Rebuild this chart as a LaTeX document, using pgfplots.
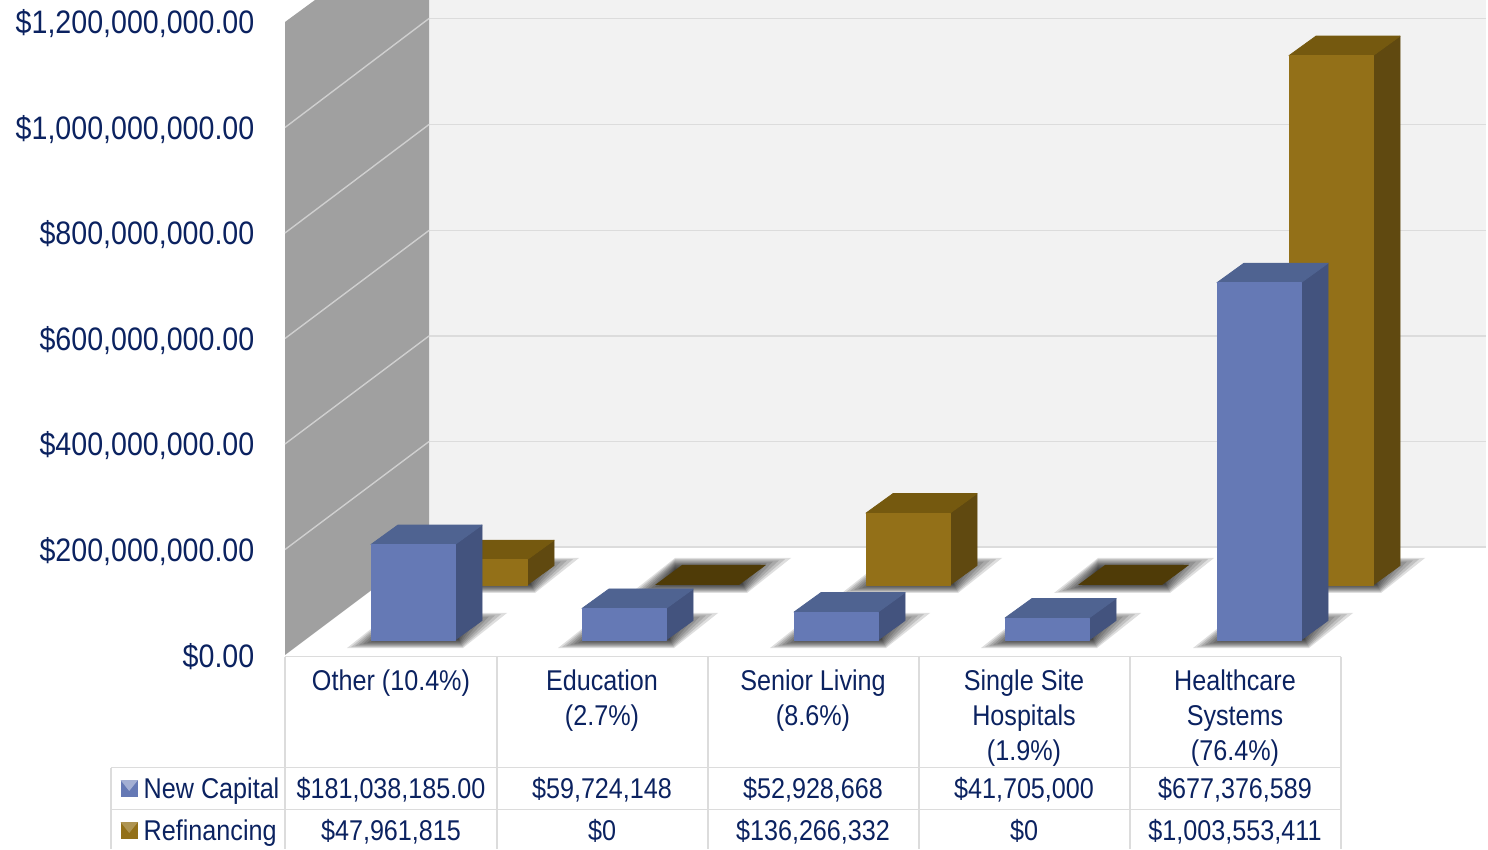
\documentclass[border=0pt]{standalone}
\usepackage{fontspec}
\setmainfont[FakeStretch=0.88]{Liberation Sans}
\usepackage{pgfplots}
\pgfplotsset{compat=1.18}
\definecolor{ink}{HTML}{0B2260}
\definecolor{bf}{HTML}{6579B5}
\definecolor{bt}{HTML}{4F6391}
\definecolor{bs}{HTML}{43537E}
\definecolor{gf}{HTML}{937018}
\definecolor{gt}{HTML}{75590F}
\definecolor{gs}{HTML}{604910}
\definecolor{gz}{HTML}{4F3B07}
\definecolor{wall}{HTML}{A0A0A0}
\definecolor{backc}{HTML}{F2F2F2}
\definecolor{gridc}{HTML}{DCDCDC}
\definecolor{wgrid}{HTML}{CFCFCF}
% pixel row -> value in millions of dollars on the chart's vertical scale
\pgfmathdeclarefunction{pyv}{1}{\pgfmathparse{(655-#1)*1.89573}}
% 3-D bar: left x, base pixel row, value (millions), front, top, side
\newcommand{\barD}[6]{%
 \addplot[fill=#6,draw=#6,line width=0.8pt,line join=round] coordinates {({#1+84},{pyv(#2)}) ({#1+111},{pyv(#2-19.5)}) ({#1+111},{pyv(#2-19.5)+#3}) ({#1+84},{pyv(#2)+#3})} --cycle;
 \addplot[fill=#5,draw=#5,line width=0.8pt,line join=round] coordinates {({#1},{pyv(#2)+#3}) ({#1+84},{pyv(#2)+#3}) ({#1+111},{pyv(#2-19.5)+#3}) ({#1+27},{pyv(#2-19.5)+#3})} --cycle;
 \addplot[fill=#4,draw=#4,line width=0.8pt,line join=round] coordinates {({#1},{pyv(#2)}) ({#1+84},{pyv(#2)}) ({#1+84},{pyv(#2)+#3}) ({#1},{pyv(#2)+#3})} --cycle;
}
\newcommand{\shadowlayer}[3]{%
 \addplot[fill=black,draw=none,fill opacity=0.13] coordinates {({#1-24+4*#3},{pyv(#2+8-#3)}) ({#1+92-0.5*#3},{pyv(#2+8-#3)}) ({#1+136-6*#3},{pyv(#2-27+1.2*#3)}) ({#1+20},{pyv(#2-27+1.2*#3)})} --cycle;
}
\newcommand{\shadowD}[2]{\shadowlayer{#1}{#2}{0}\shadowlayer{#1}{#2}{1}\shadowlayer{#1}{#2}{2}\shadowlayer{#1}{#2}{3}\shadowlayer{#1}{#2}{4}\shadowlayer{#1}{#2}{5}\shadowlayer{#1}{#2}{6}\shadowlayer{#1}{#2}{7}\shadowlayer{#1}{#2}{8}\shadowlayer{#1}{#2}{9}}
\newcommand{\gridH}[1]{\addplot[color=gridc,line width=1.6pt] coordinates {(429,{pyv(#1)}) (1486,{pyv(#1)})};}
\newcommand{\gridW}[2]{\addplot[color=wgrid,line width=1.4pt] coordinates {(285,{pyv(#1)}) (429,{pyv(#2)})};}
\newcommand{\tabline}[4]{\addplot[color=gridc,line width=1.8pt] coordinates {(#1,{pyv(#2)}) (#3,{pyv(#4)})};}
\newcommand{\cell}[3]{\node[anchor=base,inner sep=0pt,text=ink,font=\fontsize{28.6}{35}\selectfont] at (axis cs:#1,{pyv(#2)}) {#3};}
\begin{document}
\begin{tikzpicture}
\begin{axis}[
  scale only axis,width=1488pt,height=849pt,
  xmin=0,xmax=1488,ymin=-367.77,ymax=1241.7,
  axis line style={draw=none},
  major tick length=0pt,tick style={draw=none},
  ytick={0,200,400,600,800,1000,1200},
  yticklabels={{\$0.00},{\$200,000,000.00},{\$400,000,000.00},{\$600,000,000.00},{\$800,000,000.00},{\$1,000,000,000.00},{\$1,200,000,000.00}},
  yticklabel style={anchor=east,inner sep=0pt,xshift=254.5pt,yshift=-2pt,text=ink,font=\fontsize{32.5}{35}\selectfont},
  xtick={391,602,813,1024,1235},
  xticklabels={{Other (10.4\%)},{Education\\(2.7\%)},{Senior Living\\(8.6\%)},{Single Site\\Hospitals\\(1.9\%)},{Healthcare\\Systems\\(76.4\%)}},
  xticklabel style={anchor=north,align=center,inner sep=0pt,yshift=179pt,text=ink,font=\fontsize{28.6}{35}\selectfont},
  clip=true,
]
% walls
\addplot[fill=backc,draw=none] coordinates {(429,{pyv(547)}) (1486,{pyv(547)}) (1486,{pyv(0)}) (429,{pyv(0)})} --cycle;
\addplot[fill=wall,draw=none] coordinates {(285,{pyv(655)}) (429,{pyv(547)}) (429,{pyv(0)}) (315,{pyv(0)}) (285,{pyv(22)})} --cycle;
\gridH{547}\gridH{441.5}\gridH{336}\gridH{230.5}\gridH{124.5}\gridH{18.5}
\gridW{549.5}{441.5}\gridW{444}{336}\gridW{338.5}{230.5}\gridW{233}{124.5}\gridW{127.5}{18.5}
% shadows
\shadowD{443}{585}\shadowD{655}{585}\shadowD{866}{585}\shadowD{1078}{585}\shadowD{1289}{585}
% refinancing
\barD{443}{585}{47.961815}{gf}{gt}{gs}
\addplot[fill=gz,draw=none] coordinates {(655,{pyv(585)}) (739,{pyv(585)}) (766,{pyv(565)}) (682,{pyv(565)})} --cycle;
\barD{866}{585}{136.266332}{gf}{gt}{gs}
\addplot[fill=gz,draw=none] coordinates {(1078,{pyv(585)}) (1162,{pyv(585)}) (1189,{pyv(565)}) (1105,{pyv(565)})} --cycle;
\barD{1289}{585}{1003.553411}{gf}{gt}{gs}
\shadowD{371}{640}\shadowD{582}{640}\shadowD{794}{640}\shadowD{1005}{640}\shadowD{1217}{640}
% new capital
\barD{371}{640}{181.038185}{bf}{bt}{bs}
\barD{582}{640}{59.724148}{bf}{bt}{bs}
\barD{794}{640}{52.928668}{bf}{bt}{bs}
\barD{1005}{640}{41.705}{bf}{bt}{bs}
\barD{1217}{640}{677.376589}{bf}{bt}{bs}
% data table rules
\tabline{285}{656.5}{1341}{656.5}
\tabline{111}{767.5}{1341}{767.5}
\tabline{111}{809.5}{1341}{809.5}
\tabline{111}{767.5}{111}{849}
\tabline{285}{656.5}{285}{849}
\tabline{497}{656.5}{497}{849}
\tabline{708}{656.5}{708}{849}
\tabline{919}{656.5}{919}{849}
\tabline{1130}{656.5}{1130}{849}
\tabline{1341}{656.5}{1341}{849}
% legend keys
\addplot[fill=bf,draw=none] coordinates {(120.5,{pyv(780)}) (138,{pyv(780)}) (138,{pyv(797)}) (120.5,{pyv(797)})} --cycle;
\addplot[fill=bf!60!white,draw=none] coordinates {(120.5,{pyv(780)}) (138,{pyv(780)}) (129.2,{pyv(791)})} --cycle;
\addplot[fill=gf,draw=none] coordinates {(120.5,{pyv(822)}) (138,{pyv(822)}) (138,{pyv(839)}) (120.5,{pyv(839)})} --cycle;
\addplot[fill=gf!75!white,draw=none] coordinates {(120.5,{pyv(822)}) (138,{pyv(822)}) (129.2,{pyv(833)})} --cycle;
\node[anchor=base west,inner sep=0pt,text=ink,font=\fontsize{28.6}{35}\selectfont] at (axis cs:143.5,{pyv(798)}) {New Capital};
\node[anchor=base west,inner sep=0pt,text=ink,font=\fontsize{28.6}{35}\selectfont] at (axis cs:143.5,{pyv(840)}) {Refinancing};
\cell{391}{798}{\$181,038,185.00}
\cell{602}{798}{\$59,724,148}
\cell{813}{798}{\$52,928,668}
\cell{1024}{798}{\$41,705,000}
\cell{1235}{798}{\$677,376,589}
\cell{391}{840}{\$47,961,815}
\cell{602}{840}{\$0}
\cell{813}{840}{\$136,266,332}
\cell{1024}{840}{\$0}
\cell{1235}{840}{\$1,003,553,411}
\end{axis}
\end{tikzpicture}
\end{document}
